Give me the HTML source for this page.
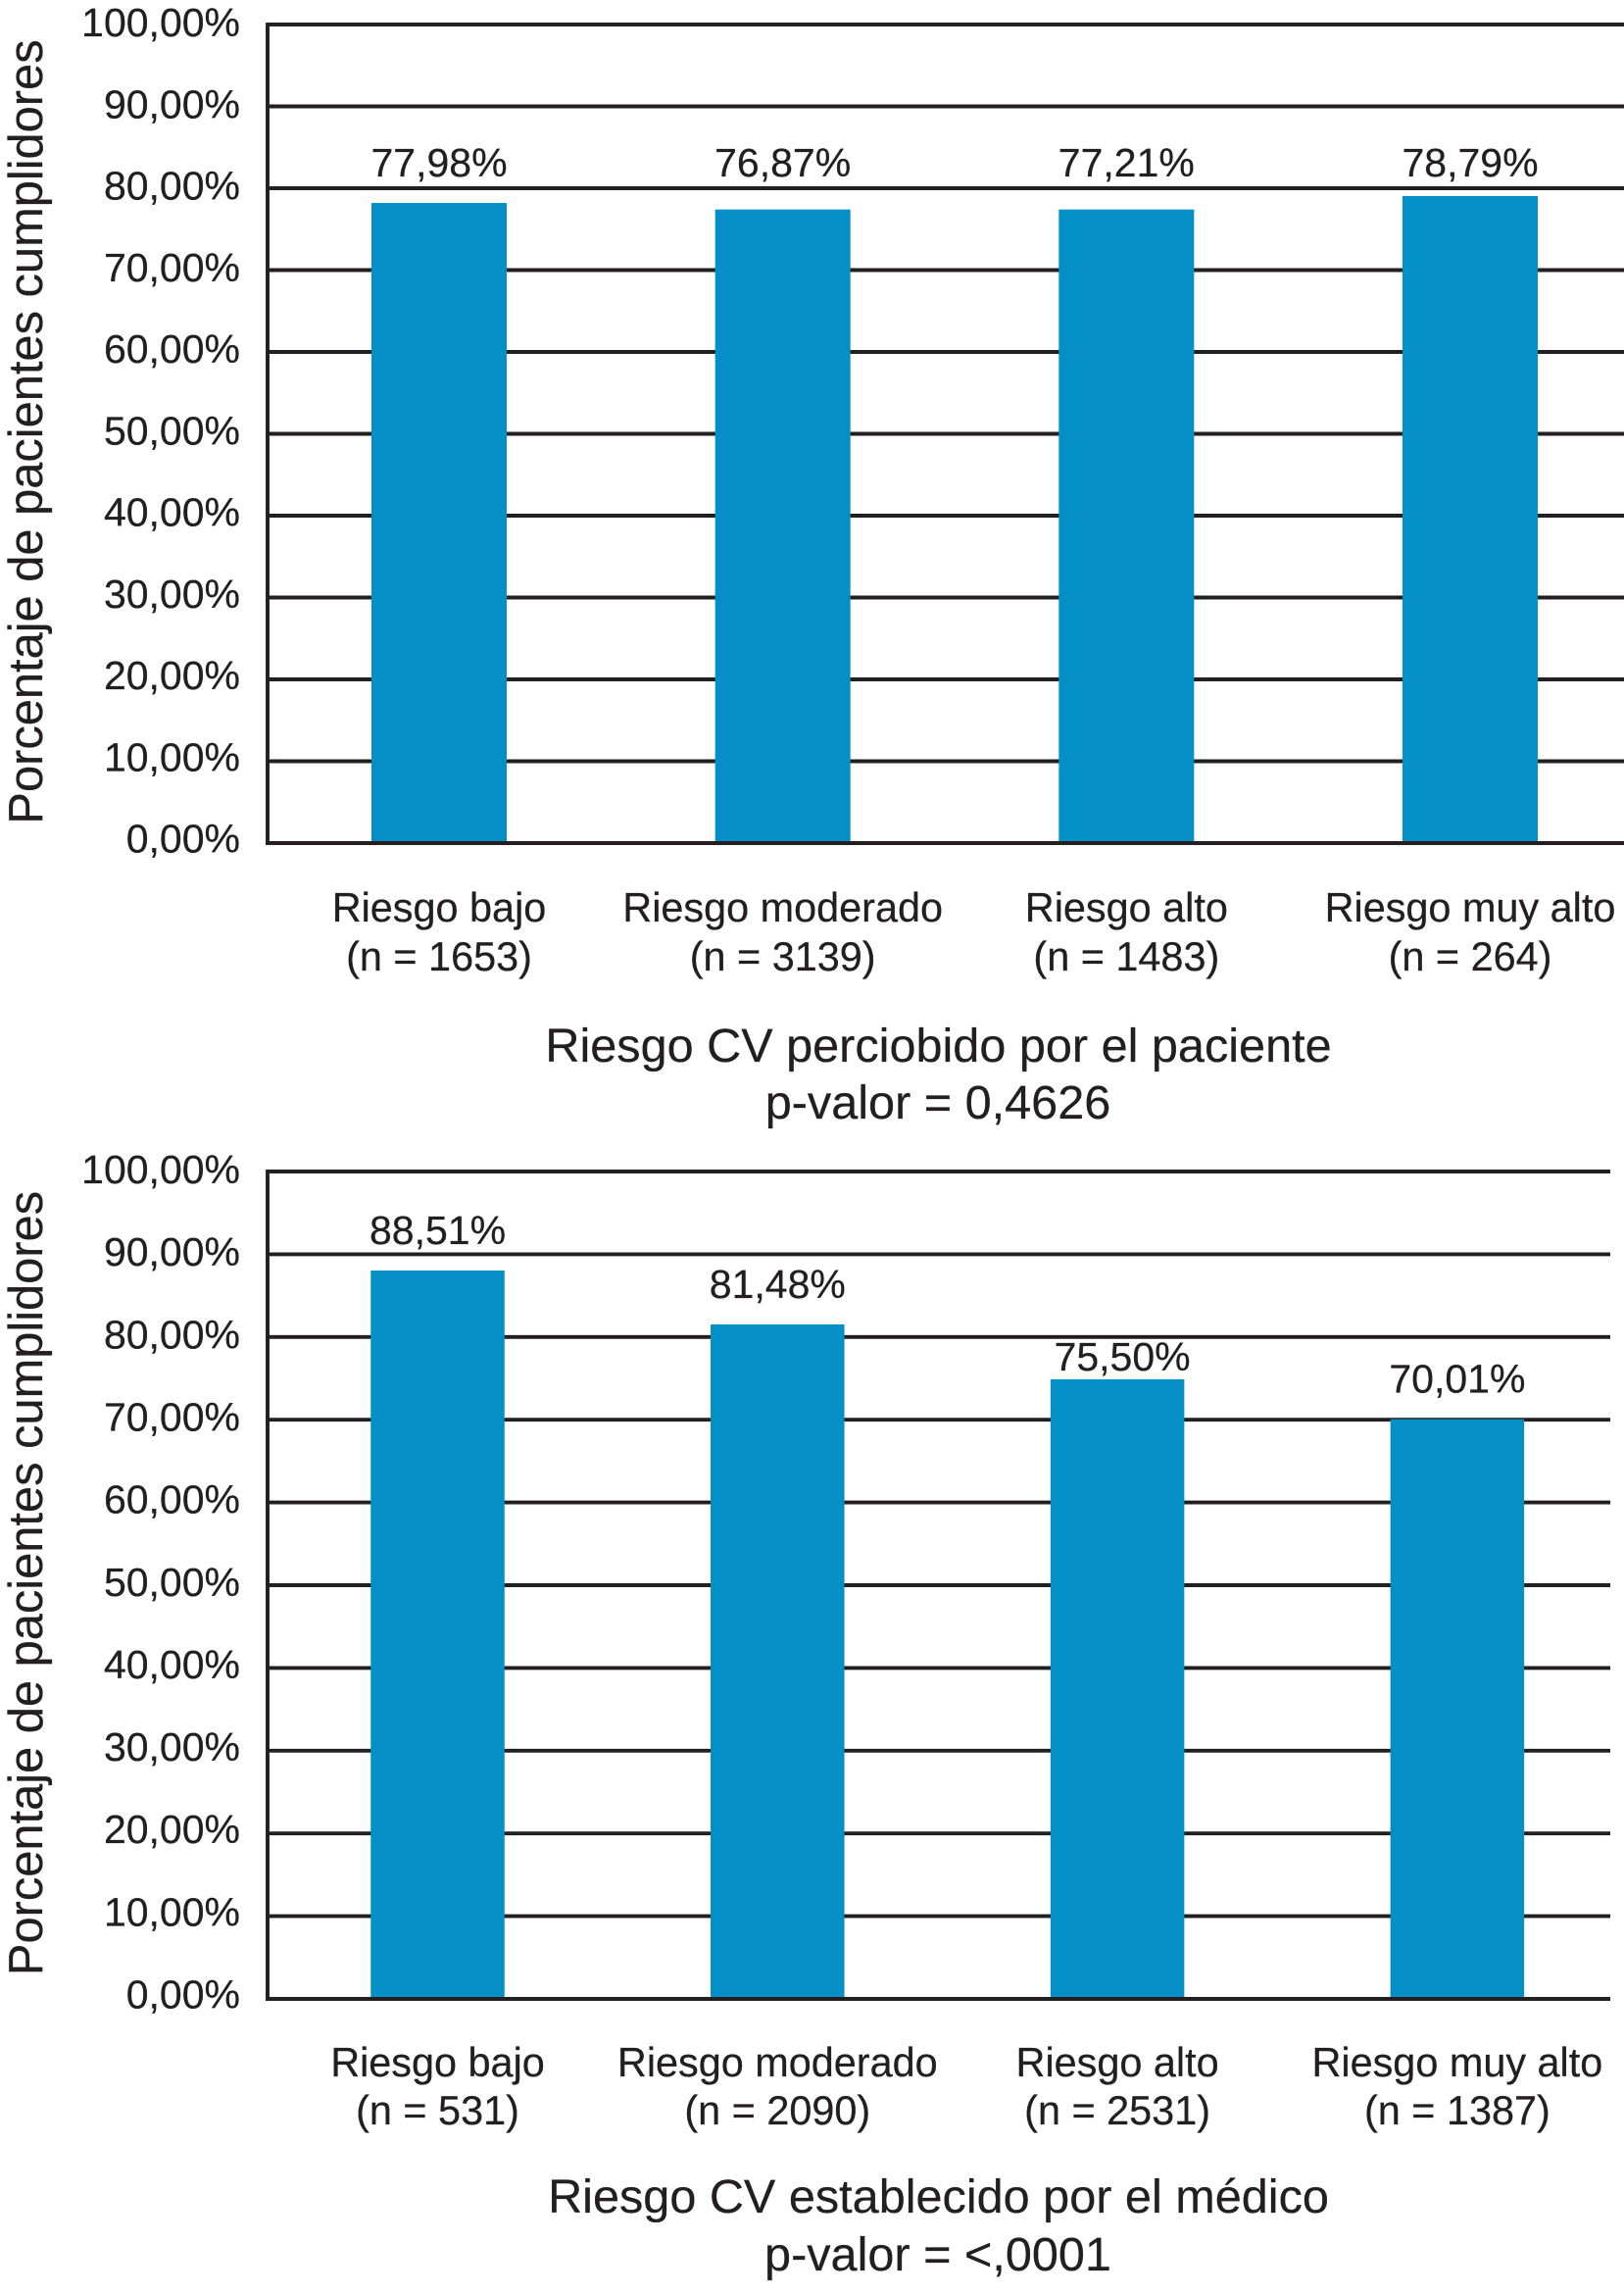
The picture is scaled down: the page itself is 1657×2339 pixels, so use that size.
<!DOCTYPE html>
<html lang="es">
<head>
<meta charset="utf-8">
<title>Porcentaje de pacientes cumplidores por riesgo CV</title>
<style>
html,body{margin:0;padding:0;background:#fff;}
svg{display:block;}
text{font-family:"Liberation Sans",Arial,sans-serif;fill:#231f20;stroke:#231f20;stroke-width:0.25;}
</style>
</head>
<body>
<svg id="figure" xmlns="http://www.w3.org/2000/svg" width="1657" height="2339" viewBox="0 0 1657 2339">
<rect x="0" y="0" width="1657" height="2339" fill="#ffffff"/>
</svg>
<script>
// Shared axis data
var yTickValues = [0, 10, 20, 30, 40, 50, 60, 70, 80, 90, 100];
var yTickLabels = ["0,00%", "10,00%", "20,00%", "30,00%", "40,00%", "50,00%", "60,00%", "70,00%", "80,00%", "90,00%", "100,00%"];
var categories = ["Riesgo bajo", "Riesgo moderado", "Riesgo alto", "Riesgo muy alto"];
var yAxisTitle = "Porcentaje de pacientes cumplidores";

// Top chart: patient-perceived risk
var patientCounts = ["(n = 1653)", "(n = 3139)", "(n = 1483)", "(n = 264)"];
var patientBarValues = [78.2, 77.4, 77.4, 79.05];
var patientPrintedValues = ["77,98%", "76,87%", "77,21%", "78,79%"];
var patientTitle = ["Riesgo CV perciobido por el paciente", "p-valor = 0,4626"];

// Bottom chart: physician-assigned risk
var doctorCounts = ["(n = 531)", "(n = 2090)", "(n = 2531)", "(n = 1387)"];
var doctorBarValues = [88.03, 81.52, 74.88, 70.06];
var doctorPrintedValues = ["88,51%", "81,48%", "75,50%", "70,01%"];
var doctorTitle = ["Riesgo CV establecido por el médico", "p-valor = <,0001"];

var SVG_NS = "http://www.w3.org/2000/svg";
var INK = "#231f20";
var BAR_FILL = "#0490c7";
var figure = document.getElementById("figure");

function makeGroup(parent) {
  var g = document.createElementNS(SVG_NS, "g");
  parent.appendChild(g);
  return g;
}

function makeText(parent, content, x, y, size, anchor) {
  var t = document.createElementNS(SVG_NS, "text");
  t.setAttribute("x", x);
  t.setAttribute("y", y);
  t.setAttribute("font-size", size);
  t.setAttribute("text-anchor", anchor);
  t.textContent = content;
  parent.appendChild(t);
  return t;
}

function makeLine(parent, x1, y1, x2, y2) {
  var l = document.createElementNS(SVG_NS, "line");
  l.setAttribute("x1", x1);
  l.setAttribute("y1", y1);
  l.setAttribute("x2", x2);
  l.setAttribute("y2", y2);
  l.setAttribute("stroke", INK);
  l.setAttribute("stroke-width", 3.9);
  parent.appendChild(l);
  return l;
}

function drawChart(cfg) {
  var yScale = function (v) { return cfg.y0 - v * (cfg.y0 - cfg.y100) / 100; };
  var xScale = function (i) { return cfg.firstCenter + i * cfg.step; };

  var chart = makeGroup(figure);
  
  

  var grid = makeGroup(chart);
  
  
  yTickValues.forEach(function (v) {
    var line = makeLine(grid, cfg.axisX, yScale(v), cfg.right, yScale(v));
    
    
  });

  var bars = makeGroup(chart);
  
  
  cfg.values.forEach(function (v, i) {
    var top = yScale(v);
    var rect = document.createElementNS(SVG_NS, "rect");
    
    
    rect.setAttribute("x", xScale(i) - cfg.barWidth / 2);
    rect.setAttribute("y", top);
    rect.setAttribute("width", cfg.barWidth);
    rect.setAttribute("height", yScale(0) - top - 1.8);
    rect.setAttribute("fill", BAR_FILL);
    bars.appendChild(rect);

    var baseline;
    var labelX = xScale(i);
    if (cfg.labelMode === "gridline") {
      // Printed value rests just above the next gridline over the bar
      var above = Math.ceil(v / 10) * 10;
      baseline = yScale(above) - 12;
    } else {
      // Printed value floats over the bar; if it would cross a gridline it drops beneath it
      baseline = top - 27;
      var crossing = yTickValues.filter(function (t) {
        return yScale(t) > baseline - 28 && yScale(t) < baseline + 2;
      });
      if (crossing.length) {
        baseline = yScale(crossing[0]) + 34;
        labelX += 5;
      }
    }
    var label = makeText(chart, cfg.printed[i], labelX, baseline, 41, "middle");
    
    
  });

  var xAxisLine = makeLine(chart, cfg.axisX - 1.9, yScale(0), cfg.right, yScale(0));
  
  
  var yAxisLine = makeLine(chart, cfg.axisX, yScale(100) - 1.9, cfg.axisX, yScale(0) + 1.9);
  
  

  yTickValues.forEach(function (v, i) {
    var tick = makeText(chart, yTickLabels[i], 245, yScale(v) + 9.5 + v * 0.025, 41, "end");
    
    
  });

  categories.forEach(function (c, i) {
    var cat = makeText(chart, c, xScale(i), cfg.catY, 41.4, "middle");
    
    
    var count = makeText(chart, cfg.counts[i], xScale(i), cfg.countY, 41.4, "middle");
    
    
  });

  var yTitle = makeText(chart, yAxisTitle, 0, 0, 48.8, "middle");
  yTitle.setAttribute("transform", "translate(43 " + cfg.yTitleCenter + ") rotate(-90)");
  
  

  var xTitle = makeText(chart, cfg.title[0], 957.5, cfg.titleY, 48.6, "middle");
  
  
  var pValue = makeText(chart, cfg.title[1], 957, cfg.pY, 48.6, "middle");
  
  
}

drawChart({
  name: "patient-risk",
  values: patientBarValues,
  printed: patientPrintedValues,
  counts: patientCounts,
  title: patientTitle,
  labelMode: "gridline",
  y0: 860, y100: 25,
  axisX: 273, right: 1657,
  firstCenter: 448, step: 350.67, barWidth: 138,
  catY: 940, countY: 990,
  titleY: 1083, pY: 1141,
  yTitleCenter: 440.5
});

drawChart({
  name: "doctor-risk",
  values: doctorBarValues,
  printed: doctorPrintedValues,
  counts: doctorCounts,
  title: doctorTitle,
  labelMode: "float",
  y0: 2039, y100: 1195,
  axisX: 273, right: 1643,
  firstCenter: 446.5, step: 346.8, barWidth: 136.5,
  catY: 2118, countY: 2167,
  titleY: 2257, pY: 2316,
  yTitleCenter: 1615
});
</script>
</body>
</html>
